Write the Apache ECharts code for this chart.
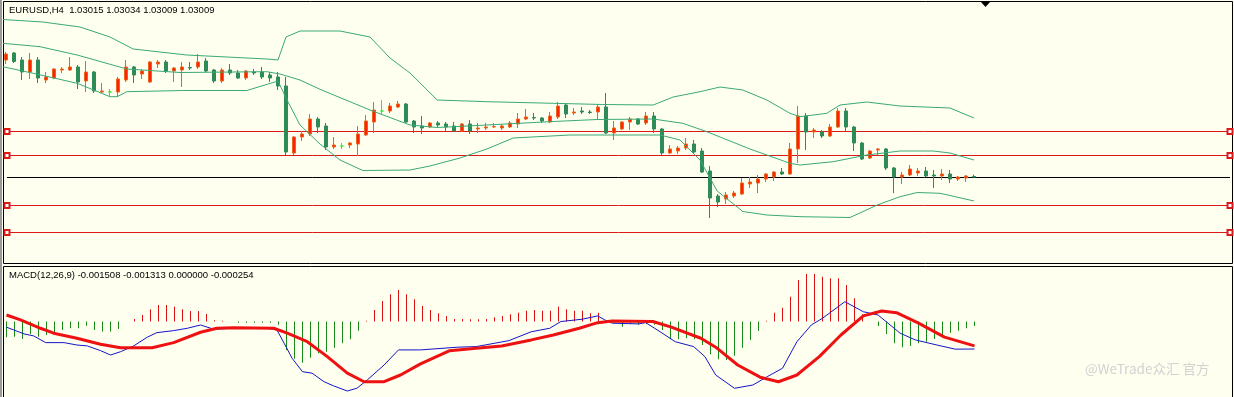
<!DOCTYPE html>
<html>
<head>
<meta charset="utf-8">
<title>EURUSD H4</title>
<script src="https://cdn.jsdelivr.net/npm/echarts@6/dist/echarts.min.js"></script>
<style>
  html, body { margin: 0; padding: 0; background: #fffff0; }
  #chart { width: 1234px; height: 397px; }
</style>
</head>
<body>
<div id="chart"></div>
<script>
// H4 candles, oldest first
const opens = [
  1.0418, 1.0425, 1.0418, 1.0406, 1.0418, 1.0398, 1.0400, 1.0408, 1.0408, 1.0411,
  1.0397, 1.0406, 1.0386, 1.0386, 1.0386, 1.0398, 1.0411, 1.0404, 1.0396, 1.0414,
  1.0416, 1.0407, 1.0408, 1.04105, 1.0411, 1.0417, 1.0408, 1.0397, 1.0408, 1.0405,
  1.0400, 1.0406, 1.0406, 1.0403, 1.0401, 1.0392, 1.0325, 1.0341, 1.0344, 1.0359,
  1.0352, 1.0331, 1.0332, 1.0333, 1.0334, 1.0343, 1.0356, 1.0367, 1.0367, 1.0371,
  1.0374, 1.0357, 1.0352, 1.0351, 1.0355, 1.0354, 1.0352, 1.0347, 1.0354, 1.0349,
  1.0350, 1.0351, 1.0350, 1.0351, 1.0354, 1.0359, 1.03605, 1.0360, 1.0356, 1.0361,
  1.0373, 1.0365, 1.0367, 1.0366, 1.0366, 1.0371, 1.0345, 1.0349, 1.0356, 1.0359,
  1.0355, 1.0362, 1.0349, 1.0325, 1.0327, 1.0330, 1.0334, 1.0327, 1.0307, 1.0282,
  1.0279, 1.0282, 1.0284, 1.0294, 1.0295, 1.0299, 1.0301, 1.0306, 1.0304, 1.0329,
  1.0362, 1.0346, 1.0346, 1.0342, 1.0351, 1.0367, 1.0351, 1.0335, 1.0320, 1.0328,
  1.0329, 1.0310, 1.0301, 1.0303, 1.0305, 1.0307, 1.0303, 1.0302, 1.0304, 1.0299,
  1.0300, 1.03015,
];
const closes = [
  1.0424, 1.04165, 1.0406, 1.0418, 1.0400, 1.0401, 1.0409, 1.0409, 1.0411, 1.0396,
  1.0406, 1.0387, 1.0387, 1.0386, 1.0399, 1.0411, 1.0403, 1.0407, 1.0416, 1.0416,
  1.0407, 1.0410, 1.0411, 1.0410, 1.0416, 1.0407, 1.0397, 1.0408, 1.0405, 1.0400,
  1.0407, 1.0405, 1.0401, 1.0400, 1.0392, 1.0326, 1.0341, 1.0344, 1.0359, 1.0351,
  1.0331, 1.0333, 1.0332, 1.0335, 1.0344, 1.0357, 1.0368, 1.0367, 1.0372, 1.0374,
  1.0356, 1.0351, 1.0350, 1.0355, 1.0353, 1.0351, 1.0347, 1.0354, 1.0347, 1.0350,
  1.0351, 1.03515, 1.0352, 1.0355, 1.0359, 1.0361, 1.0360, 1.0357, 1.0362, 1.0372,
  1.0364, 1.0366, 1.0366, 1.03655, 1.0371, 1.0345, 1.0350, 1.0356, 1.0359, 1.0354,
  1.0362, 1.0349, 1.0325, 1.0329, 1.0330, 1.0334, 1.0326, 1.0306, 1.0280, 1.0276,
  1.0283, 1.0285, 1.0295, 1.0296, 1.0299, 1.0304, 1.0306, 1.0304, 1.0329, 1.0362,
  1.0346, 1.0348, 1.0342, 1.0351, 1.0367, 1.0351, 1.0335, 1.0319, 1.0327, 1.0329,
  1.0310, 1.0301, 1.0303, 1.0309, 1.0307, 1.0302, 1.0302, 1.0304, 1.0299, 1.0301,
  1.0302, 1.03009,
];
const lows = [
  1.0414, 1.0415, 1.0398, 1.0399, 1.0395, 1.0395, 1.0399, 1.0405, 1.0407, 1.0389,
  1.0386, 1.0385, 1.0385, 1.0382, 1.0381, 1.0396, 1.0395, 1.0399, 1.0395, 1.0410,
  1.0405, 1.0396, 1.0391, 1.0408, 1.0409, 1.0406, 1.0395, 1.0395, 1.0403, 1.0399,
  1.0398, 1.0403, 1.0399, 1.0396, 1.0388, 1.0323, 1.0323, 1.0337, 1.0342, 1.0345,
  1.0328, 1.0329, 1.0329, 1.0330, 1.0322, 1.0342, 1.0345, 1.0363, 1.0365, 1.0370,
  1.0355, 1.0345, 1.0344, 1.0350, 1.0351, 1.0347, 1.0346, 1.0346, 1.0344, 1.0345,
  1.0348, 1.0350, 1.0348, 1.0350, 1.0350, 1.0358, 1.0358, 1.0355, 1.0355, 1.0359,
  1.0360, 1.0363, 1.0364, 1.0364, 1.0358, 1.0344, 1.0338, 1.0348, 1.0348, 1.0353,
  1.0353, 1.0345, 1.0323, 1.0324, 1.0324, 1.0328, 1.0324, 1.0305, 1.0260, 1.0271,
  1.0274, 1.0280, 1.0283, 1.0290, 1.0285, 1.0296, 1.0297, 1.0303, 1.0303, 1.0315,
  1.0328, 1.0340, 1.0340, 1.0341, 1.0350, 1.0346, 1.0327, 1.0318, 1.0319, 1.0323,
  1.0308, 1.0285, 1.0294, 1.0302, 1.0302, 1.0301, 1.0290, 1.0298, 1.0295, 1.0297,
  1.0296, 1.03009,
];
const highs = [
  1.0426, 1.0426, 1.0421, 1.0425, 1.0421, 1.0406, 1.0410, 1.0411, 1.0421, 1.0413,
  1.0417, 1.0407, 1.0395, 1.0389, 1.0401, 1.0418, 1.0412, 1.0409, 1.0417, 1.0418,
  1.0418, 1.0411, 1.0416, 1.0416, 1.0424, 1.0420, 1.0409, 1.0410, 1.0414, 1.0408,
  1.0408, 1.0409, 1.0411, 1.0406, 1.0406, 1.0401, 1.0342, 1.0347, 1.0364, 1.0361,
  1.0355, 1.0341, 1.0335, 1.0336, 1.0352, 1.0363, 1.0376, 1.0378, 1.0375, 1.0377,
  1.0375, 1.0358, 1.0362, 1.0356, 1.0357, 1.0356, 1.0356, 1.0355, 1.0358, 1.0355,
  1.0355, 1.0355, 1.0354, 1.0357, 1.0365, 1.0369, 1.0365, 1.0361, 1.0366, 1.0376,
  1.0375, 1.0370, 1.0371, 1.0368, 1.0374, 1.0385, 1.0357, 1.0357, 1.0361, 1.0360,
  1.0366, 1.0366, 1.0350, 1.0333, 1.0332, 1.0340, 1.0338, 1.0330, 1.0312, 1.0284,
  1.0286, 1.0287, 1.0300, 1.0301, 1.0303, 1.0305, 1.0307, 1.0310, 1.0335, 1.0372,
  1.0365, 1.0350, 1.0348, 1.0354, 1.0370, 1.0370, 1.0352, 1.0336, 1.0328, 1.0330,
  1.0330, 1.0311, 1.0306, 1.0313, 1.0310, 1.0311, 1.0308, 1.0309, 1.0308, 1.0302,
  1.0303, 1.03034,
];

// Bollinger bands as [bar index, price] vertices
const bbUpper = [
  [-0.4, 1.04585], [4.6, 1.0456], [9.25, 1.0451], [13, 1.0441], [15.9, 1.0429],
  [22.6, 1.0423], [32.6, 1.0419], [34, 1.0418], [35, 1.0441], [36.75, 1.0447],
  [41.75, 1.0447], [45.5, 1.0441], [48, 1.0420], [50.5, 1.0405], [53.9, 1.0378],
  [60.1, 1.03763], [68.4, 1.03747], [74.6, 1.03735], [80.9, 1.0373], [83.4, 1.0381],
  [86.75, 1.03863], [89.25, 1.0391], [92.1, 1.0388], [95.1, 1.0378], [98, 1.03647],
  [99.25, 1.03613], [102.6, 1.03647], [104.25, 1.0373], [107.6, 1.0376], [111.75, 1.0372],
  [118, 1.0370], [121, 1.0360],
];
const bbMiddle = [
  [-0.4, 1.04347], [4.25, 1.04313], [8.9, 1.0423], [15.1, 1.0409], [21.75, 1.04055],
  [32.6, 1.04063], [34.25, 1.0404], [36.75, 1.0398], [39.25, 1.03887], [45.5, 1.0368],
  [50.5, 1.0353], [53.9, 1.03505], [60.1, 1.0353], [68.4, 1.03565], [73.9, 1.03585],
  [80.9, 1.0359], [84.6, 1.03547], [87.6, 1.03463], [93, 1.0329], [98, 1.03147],
  [99.25, 1.0313], [103.4, 1.03163], [107.6, 1.0323], [111.75, 1.0327], [115.9, 1.0327],
  [118, 1.0325], [121, 1.0318],
];
const bbLower = [
  [-0.4, 1.04113], [3.4, 1.04047], [8.9, 1.03947], [13, 1.03813], [13.9, 1.03813],
  [15.1, 1.03863], [22.1, 1.03875], [30.1, 1.03875], [34, 1.0397], [35, 1.0380],
  [36.75, 1.0353], [39.25, 1.0334], [41.75, 1.0318], [44.6, 1.03075], [50.5, 1.0308],
  [53, 1.0312], [56.75, 1.0320], [60.1, 1.0329], [63.4, 1.0340], [70.5, 1.0343],
  [81.75, 1.0343], [84.25, 1.0338], [86.75, 1.0318], [88.9, 1.0287], [92.1, 1.02665],
  [95.1, 1.0263], [99.25, 1.02613], [105.5, 1.02605], [108.9, 1.0273], [111.75, 1.02813],
  [113.9, 1.02855], [116.75, 1.02847], [118, 1.02825], [121, 1.0277],
];

// horizontal levels drawn on the chart
const levelPrices = [1.0347, 1.0323, 1.0273, 1.0246];
const bidPrice = 1.0301;

// MACD(12,26,9) panel
const macdHist = [
  -0.00086, -0.00083, -0.00096, -0.00068, -0.00083, -0.00074, -0.00061, -0.00046, -0.00037, -0.00037,
  -0.00023, -0.00046, -0.00055, -0.00055, -0.00041, 0, 0.00014, 0.00036, 0.00068, 0.00091,
  0.00091, 0.00082, 0.00068, 0.00058, 0.00058, 0.00042, 0.00007, 0.00005, 0, -0.00006,
  -0.00006, -0.00006, -0.00006, -0.00006, -0.00018, -0.00156, -0.00204, -0.00226, -0.00199, -0.00174,
  -0.00166, -0.00144, -0.00119, -0.00097, -0.0005, 0.00004, 0.00064, 0.00113, 0.0015, 0.00174,
  0.0015, 0.00123, 0.00086, 0.00064, 0.00046, 0.00031, 0.00014, 0.00014, 0.00012, 0.00012,
  0.00014, 0.00024, 0.00031, 0.0004, 0.00049, 0.0006, 0.00064, 0.0006, 0.0006, 0.00082,
  0.00068, 0.0006, 0.0006, 0.00046, 0.00049, 0.00003, -0.00009, -0.00028, -0.00013, -0.00018,
  -0.00013, -0.00018, -0.00046, -0.00097, -0.00097, -0.00092, -0.00097, -0.00129, -0.0018, -0.00207,
  -0.00211, -0.00188, -0.00144, -0.00101, -0.00052, 0.00005, 0.00049, 0.00076, 0.00137, 0.00229,
  0.00262, 0.00262, 0.00247, 0.00238, 0.00238, 0.00201, 0.00128, 0.0004, 0, -0.00024,
  -0.00068, -0.00119, -0.00141, -0.00134, -0.00119, -0.00111, -0.00096, -0.00079, -0.00061, -0.0005,
  -0.00037, -0.00024,
];
const macdMain = [
  [0, -0.00031], [0.9, -0.00046], [2.2, -0.00068], [3.4, -0.00079], [4.9, -0.00116],
  [7.2, -0.00116], [8.8, -0.00129], [10.1, -0.00134], [11.75, -0.0016], [13, -0.00184],
  [14.25, -0.00166], [15.9, -0.00134], [17.6, -0.00086], [18.8, -0.00061], [20.9, -0.0005],
  [22.6, -0.00037], [24.25, -0.00019], [25.9, -0.00042], [28.4, -0.00037], [32.6, -0.00037],
  [33.8, -0.00046], [34.7, -0.00119], [35.7, -0.00202], [37, -0.00276], [38.2, -0.00284],
  [39.7, -0.00331], [40.9, -0.00354], [42.6, -0.00382], [43.8, -0.00367], [45.1, -0.00321],
  [47.2, -0.00239], [49, -0.00156], [51.75, -0.00156], [56.4, -0.00141], [58.7, -0.00138],
  [62.8, -0.00105], [65.6, -0.00056], [67.9, -0.00037], [69.3, 0], [72, 0.00013],
  [73.9, 0.00031], [74.8, 0.00009], [75.7, -0.00009], [79, -0.00013], [79.9, -0.00006],
  [81.7, -0.00056], [83.6, -0.00111], [85.9, -0.00138], [87.3, -0.00193], [88.65, -0.00294],
  [91, -0.00367], [93.3, -0.00349], [95.1, -0.00303], [97, -0.00257], [98.8, -0.00111],
  [100.6, -0.00019], [102, 0.00018], [104.8, 0.00109], [107.1, 0.00054], [108.95, 0.00036],
  [111.7, -0.00064], [113.6, -0.00101], [116.3, -0.00129], [118.6, -0.00152], [121, -0.00151],
];
const macdSignal = [
  [0, 0.00036], [1.75, 0.00009], [4.25, -0.00037], [5.9, -0.00064], [8.8, -0.00092],
  [11.75, -0.00125], [14.25, -0.00144], [18.2, -0.00144], [20.9, -0.00116], [24.25, -0.00059],
  [26.3, -0.00037], [28.4, -0.00034], [33.4, -0.00037], [35.1, -0.00064], [37.6, -0.00111],
  [40.1, -0.00193], [42.6, -0.00284], [44.7, -0.00331], [47.2, -0.00331], [49.25, -0.00294],
  [51.75, -0.00233], [55.4, -0.0016], [58.7, -0.00147], [61.9, -0.00134], [65.6, -0.00101],
  [68.35, -0.00074], [71.6, -0.00037], [73.9, -0.00006], [75.7, 0.00003], [80.8, 0],
  [83.1, -0.00031], [86.8, -0.00092], [88.65, -0.00141], [91.4, -0.00239], [94.2, -0.00306],
  [96.5, -0.00331], [98.8, -0.00294], [101.6, -0.00193], [104.3, -0.00074], [107.1, 0.00031],
  [109.4, 0.00058], [111.25, 0.00049], [114, -0.00009], [117.25, -0.00086], [121, -0.00134],
];
const macdTitle = 'MACD(12,26,9) -0.001508 -0.001313 0.000000 -0.000254';

const SLOT_COUNT = 154; // candle slots across the window, incl. empty right margin
const slots = Array.from({ length: SLOT_COUNT }, (_, i) => `${i + 1}`);
const candles = opens.map((open, i) => [open, closes[i], lows[i], highs[i]]);
const last = candles.length - 1;
const chartTitle = `EURUSD,H4  ${opens[last].toFixed(5)} ${highs[last].toFixed(5)} ${lows[last].toFixed(5)} ${closes[last].toFixed(5)}`;

const BAND_COLOR = '#3aa878';
const LEVEL_COLOR = '#dd1a1a';
const TEXT_FONT = '9.5px "Liberation Sans", Arial, sans-serif';

function bandSeries(data) {
  return {
    type: 'line',
    xAxisIndex: 1,
    yAxisIndex: 0,
    data,
    symbol: 'none',
    silent: true,
    lineStyle: { color: BAND_COLOR, width: 1 },
  };
}

// a level spans the whole window: x goes 0 -> 1 on the overlay axis
function levelSeries(price, color, withHandles) {
  return {
    type: 'line',
    xAxisIndex: 2,
    yAxisIndex: 1,
    data: [[0, price], [1, price]],
    symbol: withHandles ? 'emptyRect' : 'none',
    symbolSize: 5,
    showSymbol: withHandles,
    clip: false,
    silent: true,
    z: 1,
    lineStyle: { color, width: 1 },
    itemStyle: { color, borderColor: color, borderWidth: 1 },
  };
}

const chart = echarts.init(document.getElementById('chart'), null, { renderer: 'canvas' });

chart.setOption({
  animation: false,
  backgroundColor: '#fffff0',
  grid: [
    { left: 2, top: 2, width: 1232, height: 260, containLabel: false, outerBoundsMode: 'none' },
    { left: 7, top: 2.5, width: 1223, height: 260, containLabel: false, outerBoundsMode: 'none' },
    { left: 2.5, top: 267, width: 1232, height: 130, containLabel: false, outerBoundsMode: 'none' },
  ],
  xAxis: [
    { type: 'category', gridIndex: 0, data: slots, show: false },
    { type: 'value', gridIndex: 0, min: -0.5, max: SLOT_COUNT - 0.5, show: false },
    { type: 'value', gridIndex: 1, min: 0, max: 1, show: false },
    { type: 'category', gridIndex: 2, data: slots, show: false },
    { type: 'value', gridIndex: 2, min: -0.5, max: SLOT_COUNT - 0.5, show: false },
  ],
  yAxis: [
    { type: 'value', gridIndex: 0, min: 1.0216, max: 1.0476, show: false },
    { type: 'value', gridIndex: 1, min: 1.0216, max: 1.0476, show: false },
    { type: 'value', gridIndex: 2, min: -0.00415, max: 0.003, show: false },
  ],
  series: [
    levelSeries(bidPrice, '#000000', false),
    ...levelPrices.map((price) => levelSeries(price, LEVEL_COLOR, true)),
    bandSeries(bbUpper),
    bandSeries(bbMiddle),
    bandSeries(bbLower),
    {
      type: 'candlestick',
      xAxisIndex: 0,
      yAxisIndex: 0,
      data: candles,
      barWidth: 4,
      silent: true,
      itemStyle: {
        color: '#ff2200',
        color0: '#2e8b57',
        borderColor: '#e8661c',
        borderColor0: '#2e8b57',
        borderColorDoji: '#33e833',
        borderWidth: 1,
      },
    },
    {
      type: 'bar',
      xAxisIndex: 3,
      yAxisIndex: 2,
      data: macdHist,
      barWidth: 1,
      silent: true,
      itemStyle: {
        color: (params) => (params.value >= 0 ? '#dd1111' : '#168a16'),
      },
    },
    {
      type: 'line',
      xAxisIndex: 4,
      yAxisIndex: 2,
      data: macdMain,
      symbol: 'none',
      silent: true,
      lineStyle: { color: '#1414c8', width: 1 },
    },
    {
      type: 'line',
      xAxisIndex: 4,
      yAxisIndex: 2,
      data: macdSignal,
      symbol: 'none',
      silent: true,
      lineStyle: { color: '#ee1111', width: 3 },
    },
  ],
  graphic: [
    { type: 'rect', shape: { x: 0, y: 0, width: 2, height: 397 }, style: { fill: '#9a9a9a' } },
    {
      type: 'rect',
      shape: { x: 3.5, y: 1.5, width: 1229, height: 262 },
      style: { fill: 'none', stroke: '#000', lineWidth: 1 },
    },
    {
      type: 'rect',
      shape: { x: 3.5, y: 266.5, width: 1229, height: 140 },
      style: { fill: 'none', stroke: '#000', lineWidth: 1 },
    },
    {
      type: 'polygon',
      shape: { points: [[981, 2], [990, 2], [985.5, 7]] },
      style: { fill: '#000' },
    },
    {
      type: 'text',
      x: 9,
      y: 10,
      style: { text: chartTitle, font: TEXT_FONT, fill: '#000', verticalAlign: 'middle' },
    },
    {
      type: 'text',
      x: 9,
      y: 275.5,
      style: { text: macdTitle, font: TEXT_FONT, fill: '#000', verticalAlign: 'middle' },
    },
    {
      type: 'text',
      x: 1085,
      y: 369,
      style: {
        text: '@WeTrade众汇 官方',
        font: '13.5px "Noto Sans CJK SC", "Noto Sans", sans-serif',
        fill: '#d2d2d2',
        verticalAlign: 'middle',
      },
    },
  ],
});
</script>
</body>
</html>
